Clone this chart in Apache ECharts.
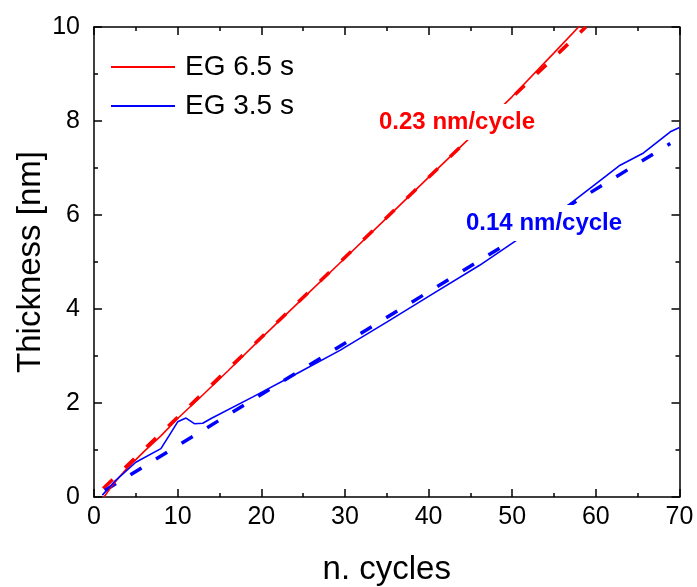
<!DOCTYPE html>
<html>
<head>
<meta charset="utf-8">
<script src="https://cdn.jsdelivr.net/npm/echarts@6/dist/echarts.min.js"></script>
<style>html,body{margin:0;padding:0;background:#fff}#c{width:697px;height:587px}</style>
</head>
<body>
<div id="c"></div>
<script>
var xRed = [1.2, 2, 3, 4, 6, 8, 10, 13, 16, 20, 25, 30, 35, 40, 45, 50, 55, 58.2];
var yRed = [0, 0.2, 0.42, 0.62, 0.97, 1.3, 1.67, 2.17, 2.68, 3.38, 4.23, 5.08, 5.94, 6.8, 7.65, 8.52, 9.45, 10.05];
var xBlue = [1, 2.4, 5, 8, 9, 10, 11, 12, 13, 14, 19, 24.6, 29.4, 35, 40.2, 46.1, 50.5, 56.7, 62.9, 65.7, 68.9, 70];
var yBlue = [0.04, 0.32, 0.74, 1.03, 1.31, 1.6, 1.68, 1.56, 1.57, 1.67, 2.13, 2.66, 3.12, 3.72, 4.29, 4.93, 5.46, 6.21, 7.06, 7.32, 7.77, 7.86];
var xRedFit = [1.1, 58.8];
var yRedFit = [0.18, 10.0];
var xBlueFit = [1.3, 68.9];
var yBlueFit = [0.14, 7.52];
var seriesNames = ['EG 6.5 s', 'EG 3.5 s'];
var slopeLabels = ['0.23 nm/cycle', '0.14 nm/cycle'];

function pairs(xs, ys) { return xs.map(function (x, i) { return [x, ys[i]]; }); }

var font = 'Liberation Sans, Arial, sans-serif';
var chart = echarts.init(document.getElementById('c'));
var axisCommon = {
  min: 0,
  axisLine: { show: true, onZero: false, lineStyle: { color: '#000', width: 1.5 } },
  axisTick: { show: true, inside: true, length: 8, lineStyle: { color: '#000', width: 1.5 } },
  minorTick: { show: true, splitNumber: 2, length: 4, lineStyle: { color: '#000', width: 1.5 } },
  splitLine: { show: false }
};
function ax(extra) { return Object.assign({}, JSON.parse(JSON.stringify(axisCommon)), extra); }

chart.setOption({
  animation: false,
  grid: { left: 94, right: 17.5, top: 27, bottom: 90, containLabel: false, outerBoundsMode: 'none' },
  legend: {
    orient: 'vertical', left: 106, top: 48, itemWidth: 64, itemHeight: 2, itemGap: 11,
    icon: 'rect',
    data: seriesNames,
    textStyle: { fontFamily: font, fontSize: 28, color: '#000', padding: [0, 0, 0, 5] }
  },
  xAxis: [
    ax({ type: 'value', max: 70, interval: 10, position: 'bottom',
      name: 'n. cycles', nameLocation: 'middle', nameGap: 56, nameMoveOverlap: false,
      nameTextStyle: { fontFamily: font, fontSize: 33, color: '#000' },
      axisLabel: { fontFamily: font, fontSize: 25, color: '#000', margin: 8 } }),
    ax({ type: 'value', max: 70, interval: 10, position: 'top', axisLabel: { show: false } })
  ],
  yAxis: [
    ax({ type: 'value', max: 10, interval: 2, position: 'left',
      name: 'Thickness [nm]', nameLocation: 'middle', nameGap: 47, nameMoveOverlap: false,
      nameTextStyle: { fontFamily: font, fontSize: 33, color: '#000' },
      axisLabel: { fontFamily: font, fontSize: 25, color: '#000', margin: 14 } }),
    ax({ type: 'value', max: 10, interval: 2, position: 'right', axisLabel: { show: false } })
  ],
  series: [
    { name: seriesNames[0], type: 'line', data: pairs(xRed, yRed), symbol: 'none', smooth: false,
      lineStyle: { color: '#ff0000', width: 1.6 }, itemStyle: { color: '#ff0000' }, z: 3 },
    { name: seriesNames[1], type: 'line', data: pairs(xBlue, yBlue), symbol: 'none',
      lineStyle: { color: '#0000ff', width: 1.6 }, itemStyle: { color: '#0000ff' }, z: 3 },
    { name: 'fit1', type: 'line', data: pairs(xRedFit, yRedFit), symbol: 'none',
      lineStyle: { color: '#ff0000', width: 3.5, type: [13, 17] }, z: 2 },
    { name: 'fit2', type: 'line', data: pairs(xBlueFit, yBlueFit), symbol: 'none',
      lineStyle: { color: '#0000ff', width: 3.5, type: [13, 17] }, z: 2 }
  ],
  graphic: [
    { type: 'text', left: 373, top: 104, z: 100,
      style: { text: slopeLabels[0], font: 'bold 24px Liberation Sans, Arial, sans-serif', fill: '#ff0000',
        backgroundColor: '#fff', padding: [6, 6, 6, 6] } },
    { type: 'text', left: 460, top: 205, z: 100,
      style: { text: slopeLabels[1], font: 'bold 24px Liberation Sans, Arial, sans-serif', fill: '#0000ff',
        backgroundColor: '#fff', padding: [6, 6, 6, 6] } }
  ]
});
</script>
</body>
</html>
